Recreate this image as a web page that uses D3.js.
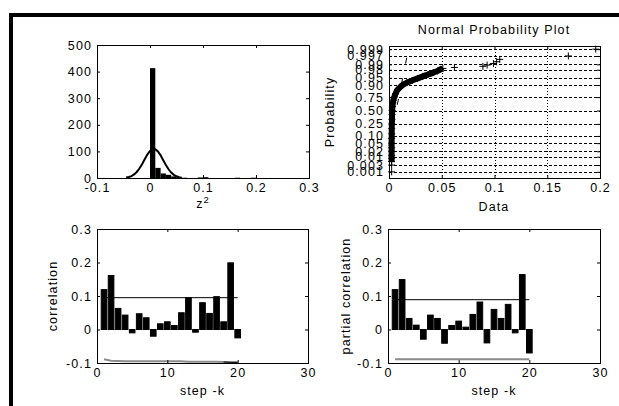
<!DOCTYPE html>
<html>
<head>
<meta charset="utf-8">
<script src="https://cdn.jsdelivr.net/npm/d3@7"></script>
<style>
  body { margin: 0; background: #fff; }
  svg { display: block; }
  text { font-family: "Liberation Sans", Arial, sans-serif; font-size: 12.5px; letter-spacing: 1.1px; fill: #000; }
</style>
</head>
<body>
<svg id="fig" width="619" height="406"></svg>
<script>
'use strict';

// --- histogram of z^2 with normal fit ---
const histCenters = [0.005, 0.015, 0.025, 0.035, 0.045, 0.055, 0.065, 0.075, 0.085, 0.095,
  0.105, 0.115, 0.125, 0.135, 0.145, 0.155, 0.165, 0.175, 0.185, 0.195];
const histCounts = [413, 38, 17, 12, 6, 3, 1, 0, 0, 2, 3, 0, 0, 0, 0, 0, 1, 0, 0, 1];
const fitX = [-0.045, -0.04, -0.035, -0.03, -0.025, -0.02, -0.015, -0.01, -0.005, 0, 0.005,
  0.01, 0.015, 0.02, 0.025, 0.03, 0.035, 0.04, 0.045, 0.05, 0.055, 0.06];
const fitY = [1.7, 3.6, 7.2, 13.3, 22.7, 35.7, 52, 70.5, 88, 102, 109, 108.5, 99.6, 85, 66.7,
  48.6, 32.8, 20.5, 11.8, 6.4, 3.1, 1.4];
const histXTicks = [-0.1, 0, 0.1, 0.2, 0.3];
const histXLabels = ["-0.1", "0", "0.1", "0.2", "0.3"];
const histYTicks = [0, 100, 200, 300, 400, 500];
const histYLabels = ["0", "100", "200", "300", "400", "500"];

// --- normal probability plot ---
const probTicks = [0.001, 0.003, 0.01, 0.02, 0.05, 0.10, 0.25, 0.50, 0.75, 0.90, 0.95, 0.98, 0.99, 0.997, 0.999];
const probLabels = ["0.001", "0.003", "0.01", "0.02", "0.05", "0.10", "0.25", "0.50", "0.75",
  "0.90", "0.95", "0.98", "0.99", "0.997", "0.999"];
// [data value, probability] read along the dense part of the curve
const normBody = [[0.0025, 0.001], [0.0025, 0.003], [0.0025, 0.005], [0.0025, 0.008], [0.0025, 0.012],
  [0.0025, 0.02], [0.0025, 0.03], [0.0025, 0.05], [0.0025, 0.08], [0.0026, 0.12], [0.0026, 0.18],
  [0.0027, 0.25], [0.0028, 0.33], [0.0029, 0.42], [0.003, 0.5], [0.0033, 0.58], [0.0037, 0.65],
  [0.0042, 0.7], [0.005, 0.75], [0.0062, 0.8], [0.008, 0.85], [0.0105, 0.88], [0.013, 0.9],
  [0.017, 0.92], [0.022, 0.935], [0.027, 0.947], [0.032, 0.957], [0.037, 0.965], [0.042, 0.972],
  [0.046, 0.977], [0.049, 0.981], [0.051, 0.983]];
const normTail = [[0.062, 0.985], [0.089, 0.987], [0.093, 0.989], [0.099, 0.991], [0.102, 0.993],
  [0.105, 0.995], [0.17, 0.997], [0.196, 0.999]];
const normRef = [[0, 0.037], [0.019, 0.9994]];
const dataTicks = [0, 0.05, 0.1, 0.15, 0.2];
const dataLabels = ["0", "0.05", "0.1", "0.15", "0.2"];

// --- autocorrelation / partial autocorrelation ---
const lags = [1, 2, 3, 4, 5, 6, 7, 8, 9, 10, 11, 12, 13, 14, 15, 16, 17, 18, 19, 20];
const acfValues = [0.119, 0.161, 0.063, 0.043, -0.01, 0.047, 0.035, -0.02, 0.017, 0.023,
  0.012, 0.05, 0.095, -0.008, 0.08, 0.048, 0.098, 0.023, 0.199, -0.025];
const acfUpper = [0.095, 0.095];
const acfLower = [-0.089, -0.093, -0.094, -0.095, -0.095, -0.095, -0.095, -0.095, -0.095, -0.095,
  -0.095, -0.095, -0.096, -0.096, -0.096, -0.096, -0.096, -0.097, -0.098, -0.098];
const pacfValues = [0.119, 0.149, 0.033, 0.013, -0.029, 0.043, 0.033, -0.041, 0.012, 0.025,
  0.007, 0.045, 0.082, -0.04, 0.06, 0.033, 0.075, -0.01, 0.164, -0.07];
const pacfUpper = [0.089, 0.089];
const pacfLower = [-0.089, -0.089];
const boundLags = [1, 20];
const stepTicks = [0, 10, 20, 30];
const stepLabels = ["0", "10", "20", "30"];
const corrTicks = [-0.1, 0, 0.1, 0.2, 0.3];
const corrLabels = ["-0.1", "0", "0.1", "0.2", "0.3"];

// inverse normal cdf, used as the probability axis transform
function probit(p) {
  const a = [-3.969683028665376e+01, 2.209460984245205e+02, -2.759285104469687e+02, 1.383577518672690e+02, -3.066479806614716e+01, 2.506628277459239e+00];
  const b = [-5.447609879822406e+01, 1.615858368580409e+02, -1.556989798598866e+02, 6.680131188771972e+01, -1.328068155288572e+01];
  const c = [-7.784894002430293e-03, -3.223964580411365e-01, -2.400758277161838e+00, -2.549732539343734e+00, 4.374664141464968e+00, 2.938163982698783e+00];
  const d = [7.784695709041462e-03, 3.224671290700398e-01, 2.445134137142996e+00, 3.754408661907416e+00];
  const lo = 0.02425;
  let q, r;
  if (p < lo) {
    q = Math.sqrt(-2 * Math.log(p));
    return (((((c[0] * q + c[1]) * q + c[2]) * q + c[3]) * q + c[4]) * q + c[5]) / ((((d[0] * q + d[1]) * q + d[2]) * q + d[3]) * q + 1);
  }
  if (p > 1 - lo) {
    q = Math.sqrt(-2 * Math.log(1 - p));
    return -(((((c[0] * q + c[1]) * q + c[2]) * q + c[3]) * q + c[4]) * q + c[5]) / ((((d[0] * q + d[1]) * q + d[2]) * q + d[3]) * q + 1);
  }
  q = p - 0.5;
  r = q * q;
  return (((((a[0] * r + a[1]) * r + a[2]) * r + a[3]) * r + a[4]) * r + a[5]) * q / (((((b[0] * r + b[1]) * r + b[2]) * r + b[3]) * r + b[4]) * r + 1);
}

const svg = d3.select("#fig");

// figure frame (thick black edges)
svg.append("rect").attr("x", 9).attr("y", 13).attr("width", 610).attr("height", 4).attr("fill", "#000");
svg.append("rect").attr("x", 9).attr("y", 13).attr("width", 4).attr("height", 393).attr("fill", "#000");

// box with inward ticks on all four sides, labels bottom and left
function drawFrame(x, y, xt, xl, yt, yl) {
  const [x0, x1] = x.range();
  const [y1, y0] = y.range();
  const tick = 3;
  const bottom = svg.append("g").attr("transform", "translate(0," + y1 + ")")
    .call(d3.axisBottom(x).tickValues(xt).tickFormat((d, i) => xl[i]).tickSizeInner(-tick).tickSizeOuter(0).tickPadding(4));
  const top = svg.append("g").attr("transform", "translate(0," + y0 + ")")
    .call(d3.axisTop(x).tickValues(xt).tickFormat("").tickSizeInner(-tick).tickSizeOuter(0));
  const left = svg.append("g").attr("transform", "translate(" + x0 + ",0)")
    .call(d3.axisLeft(y).tickValues(yt).tickFormat((d, i) => yl[i]).tickSizeInner(-tick).tickSizeOuter(0).tickPadding(5));
  const right = svg.append("g").attr("transform", "translate(" + x1 + ",0)")
    .call(d3.axisRight(y).tickValues(yt).tickFormat("").tickSizeInner(-tick).tickSizeOuter(0));
  [bottom, top, left, right].forEach(g => g.select(".domain").remove());
  bottom.selectAll("text").attr("dy", "0.8em");
  svg.append("rect")
    .attr("x", x0 + 0.5).attr("y", y0 + 0.5)
    .attr("width", x1 - x0).attr("height", y1 - y0)
    .attr("fill", "none").attr("stroke", "#000").attr("stroke-width", 1);
}

// ---------- top left: histogram ----------
{
  const x = d3.scaleLinear().domain([-0.1, 0.3]).range([97, 309]);
  const y = d3.scaleLinear().domain([0, 500]).range([178, 45]);
  const bw = histCenters[1] - histCenters[0];
  svg.append("g").selectAll("rect").data(histCounts).join("rect")
    .attr("x", (d, i) => x(histCenters[i] - bw / 2))
    .attr("width", (d, i) => x(histCenters[i] + bw / 2) - x(histCenters[i] - bw / 2))
    .attr("y", d => y(d))
    .attr("height", d => y(0) - y(d))
    .attr("fill", "#000");
  const line = d3.line().x((d, i) => x(fitX[i])).y(d => y(d));
  svg.append("path").datum(fitY).attr("d", line)
    .attr("fill", "none").attr("stroke", "#000").attr("stroke-width", 2);
  drawFrame(x, y, histXTicks, histXLabels, histYTicks, histYLabels);
  const lab = svg.append("text").attr("x", 203).attr("y", 208).attr("text-anchor", "middle").text("z");
  lab.append("tspan").attr("dy", -5).attr("font-size", "9.5px").text("2");
}

// ---------- top right: normal probability plot ----------
{
  const x = d3.scaleLinear().domain([0, 0.2]).range([389, 600]);
  const y = d3.scaleLinear().domain([-3.4, 3.25]).range([178, 46]);
  const py = p => y(probit(p));
  const grid = svg.append("g");
  grid.selectAll("line.h").data(probTicks).join("line").attr("class", "h")
    .attr("x1", x(0)).attr("x2", x(0.2))
    .attr("y1", d => Math.round(py(d)) + 0.5).attr("y2", d => Math.round(py(d)) + 0.5)
    .attr("stroke", "#000").attr("stroke-width", 1).attr("stroke-dasharray", "3,2");
  grid.selectAll("line.v").data(dataTicks.slice(1, -1)).join("line").attr("class", "v")
    .attr("x1", d => Math.round(x(d)) + 0.5).attr("x2", d => Math.round(x(d)) + 0.5)
    .attr("y1", 46).attr("y2", 178)
    .attr("stroke", "#000").attr("stroke-width", 1).attr("stroke-dasharray", "1,2");

  svg.append("path").datum(normRef)
    .attr("d", d3.line().x(d => x(d[0])).y(d => py(d[1])))
    .attr("fill", "none").attr("stroke", "#000").attr("stroke-width", 1).attr("stroke-dasharray", "6,15");

  svg.append("path").datum(normBody.slice(2))
    .attr("d", d3.line().x(d => x(d[0])).y(d => py(d[1])).curve(d3.curveMonotoneY))
    .attr("fill", "none").attr("stroke", "#000").attr("stroke-width", 6);

  const plus = "M-3.5,0H3.5M0,-3.5V3.5";
  svg.append("g").selectAll("path").data(normBody.concat(normTail)).join("path")
    .attr("transform", d => "translate(" + x(d[0]) + "," + py(d[1]) + ")")
    .attr("d", plus).attr("stroke", "#000").attr("stroke-width", 1).attr("fill", "none");

  drawFrame(x, y, dataTicks, dataLabels, probTicks.map(probit), probLabels);
  svg.append("text").attr("x", 494).attr("y", 34).attr("text-anchor", "middle").text("Normal Probability Plot");
  svg.append("text").attr("x", 494).attr("y", 211).attr("text-anchor", "middle").text("Data");
  svg.append("text").attr("transform", "translate(334,112) rotate(-90)").attr("text-anchor", "middle").text("Probability");
}

// ---------- bottom: correlation bars ----------
function corrPanel(x0, x1, values, upper, lower, yTitle, yTitleX, darkFrom) {
  const x = d3.scaleLinear().domain([0, 30]).range([x0, x1]);
  const y = d3.scaleLinear().domain([-0.1, 0.3]).range([363, 229]);
  const w = 0.8;
  svg.append("g").selectAll("rect").data(values).join("rect")
    .attr("x", (d, i) => x(lags[i] - w / 2))
    .attr("width", x(w) - x(0))
    .attr("y", d => y(Math.max(d, 0)))
    .attr("height", d => Math.abs(y(d) - y(0)))
    .attr("fill", "#000").attr("stroke", "#000").attr("stroke-width", 1);
  svg.append("path").datum(upper)
    .attr("d", d3.line().x((d, i) => x(boundLags[i])).y(d => y(d)))
    .attr("fill", "none").attr("stroke", "#000").attr("stroke-width", 1);
  const lowLags = lower.length === lags.length ? lags : boundLags;
  const lowLine = d3.line().x((d, i) => x(lowLags[i])).y(d => y(d));
  svg.append("path").datum(lower).attr("d", lowLine)
    .attr("fill", "none").attr("stroke", "#8c8c8c").attr("stroke-width", 2);
  if (darkFrom) {
    const k = lags.indexOf(darkFrom);
    svg.append("path").datum(lower.slice(k))
      .attr("d", d3.line().x((d, i) => x(lags[k + i])).y(d => y(d)))
      .attr("fill", "none").attr("stroke", "#000").attr("stroke-width", 1);
  }
  drawFrame(x, y, stepTicks, stepLabels, corrTicks, corrLabels);
  svg.append("text").attr("x", (x0 + x1) / 2).attr("y", 395).attr("text-anchor", "middle").text("step -k");
  svg.append("text").attr("transform", "translate(" + yTitleX + ",296) rotate(-90)")
    .attr("text-anchor", "middle").text(yTitle);
}

corrPanel(97, 308, acfValues, acfUpper, acfLower, "correlation", 57, 18);
corrPanel(388, 600, pacfValues, pacfUpper, pacfLower, "partial correlation", 350, null);
</script>
</body>
</html>
